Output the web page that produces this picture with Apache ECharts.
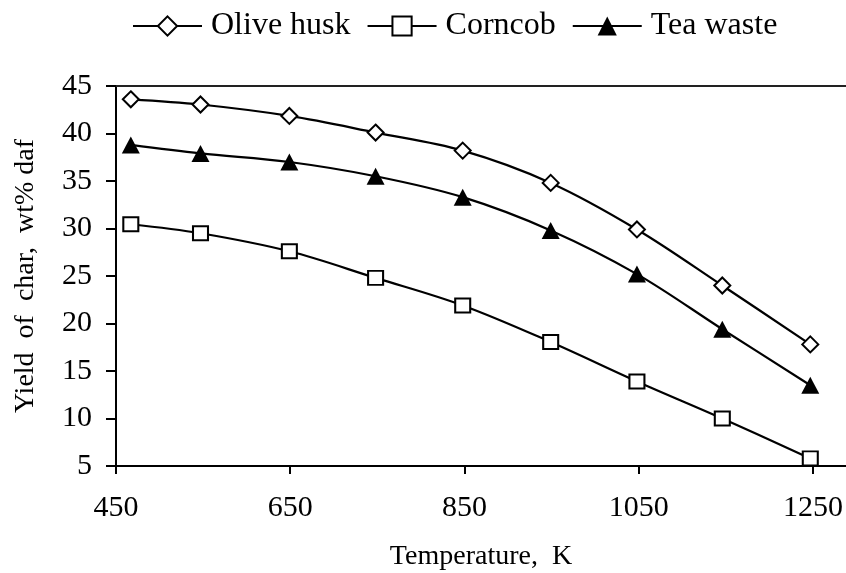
<!DOCTYPE html>
<html>
<head>
<meta charset="utf-8">
<script src="https://cdn.jsdelivr.net/npm/echarts@6/dist/echarts.min.js"></script>
<style>
  html, body { margin: 0; padding: 0; background: #fff; }
  #chart { width: 846px; height: 573px; }
</style>
</head>
<body>
<div id="chart"></div>
<script>
// temperatures (K)
const temps = [467, 547, 649, 748, 848, 949, 1048, 1146, 1247];
// char yield, wt% daf
const oliveHusk = [43.6, 43.05, 41.85, 40.1, 38.2, 34.8, 29.9, 24.0, 17.8];
const corncob = [30.45, 29.5, 27.6, 24.8, 21.9, 18.05, 13.9, 10.0, 5.8];
const teaWaste = [38.8, 37.9, 37.0, 35.5, 33.3, 29.8, 25.2, 19.4, 13.5];

const FONT = "Liberation Serif";

function pairs(ys) {
  return temps.map((t, i) => [t, ys[i]]);
}

function lineSeries(name, ys, symbol, size, fill) {
  return {
    name: name,
    type: "line",
    data: pairs(ys),
    smooth: 0.35,
    symbol: symbol,
    symbolSize: size,
    showAllSymbol: true,
    lineStyle: { color: "#000", width: 2.2 },
    itemStyle: { color: fill, borderColor: "#000", borderWidth: fill === "#000" ? 0 : 2 },
    emphasis: { disabled: true },
    z: 3,
  };
}

const chart = echarts.init(document.getElementById("chart"), null, { renderer: "canvas" });

chart.setOption({
  animation: false,
  backgroundColor: "#fff",
  textStyle: { fontFamily: FONT, color: "#000" },
  legend: {
    left: 127,
    top: 5,
    itemWidth: 69,
    itemHeight: 24,
    itemGap: 16,
    textStyle: { fontFamily: FONT, fontSize: 32, color: "#000", padding: [0, 0, 0, 4] },
    data: ["Olive husk", "Corncob", "Tea waste"],
  },
  grid: { left: 116, right: 0, top: 86, bottom: 107, outerBoundsMode: "none", containLabel: false },
  xAxis: [
    {
      type: "value",
      min: 450,
      max: 1288,
      interval: 200,
      name: "Temperature,  K",
      nameLocation: "middle",
      nameGap: 77,
      nameTextStyle: { fontFamily: FONT, fontSize: 28, color: "#000" },
      axisLine: { show: true, lineStyle: { color: "#000", width: 2 } },
      axisTick: { show: true, inside: false, length: 8, lineStyle: { color: "#000", width: 2 } },
      axisLabel: {
        fontFamily: FONT, fontSize: 30, color: "#000", margin: 27, showMaxLabel: false,
        formatter: (v) => String(v),
      },
      splitLine: { show: false },
    },
    {
      type: "value",
      position: "top",
      min: 450,
      max: 1288,
      interval: 200,
      axisLine: { show: true, lineStyle: { color: "#222", width: 2 } },
      axisTick: { show: false },
      axisLabel: { show: false },
      splitLine: { show: false },
    },
  ],
  yAxis: {
    type: "value",
    min: 5,
    max: 45,
    interval: 5,
    name: "Yield  of  char,  wt% daf",
    nameLocation: "middle",
    nameGap: 76,
    nameTextStyle: { fontFamily: FONT, fontSize: 28, color: "#000" },
    axisLine: { show: true, lineStyle: { color: "#000", width: 2 } },
    axisTick: { show: true, inside: false, length: 10, lineStyle: { color: "#000", width: 2 } },
    axisLabel: { fontFamily: FONT, fontSize: 30, color: "#000", margin: 24 },
    splitLine: { show: false },
  },
  series: [
    lineSeries("Olive husk", oliveHusk, "diamond", [16, 16], "#fff"),
    lineSeries("Corncob", corncob, "rect", [15, 14], "#fff"),
    lineSeries("Tea waste", teaWaste, "triangle", [18, 17], "#000"),
  ],
});
</script>
</body>
</html>
